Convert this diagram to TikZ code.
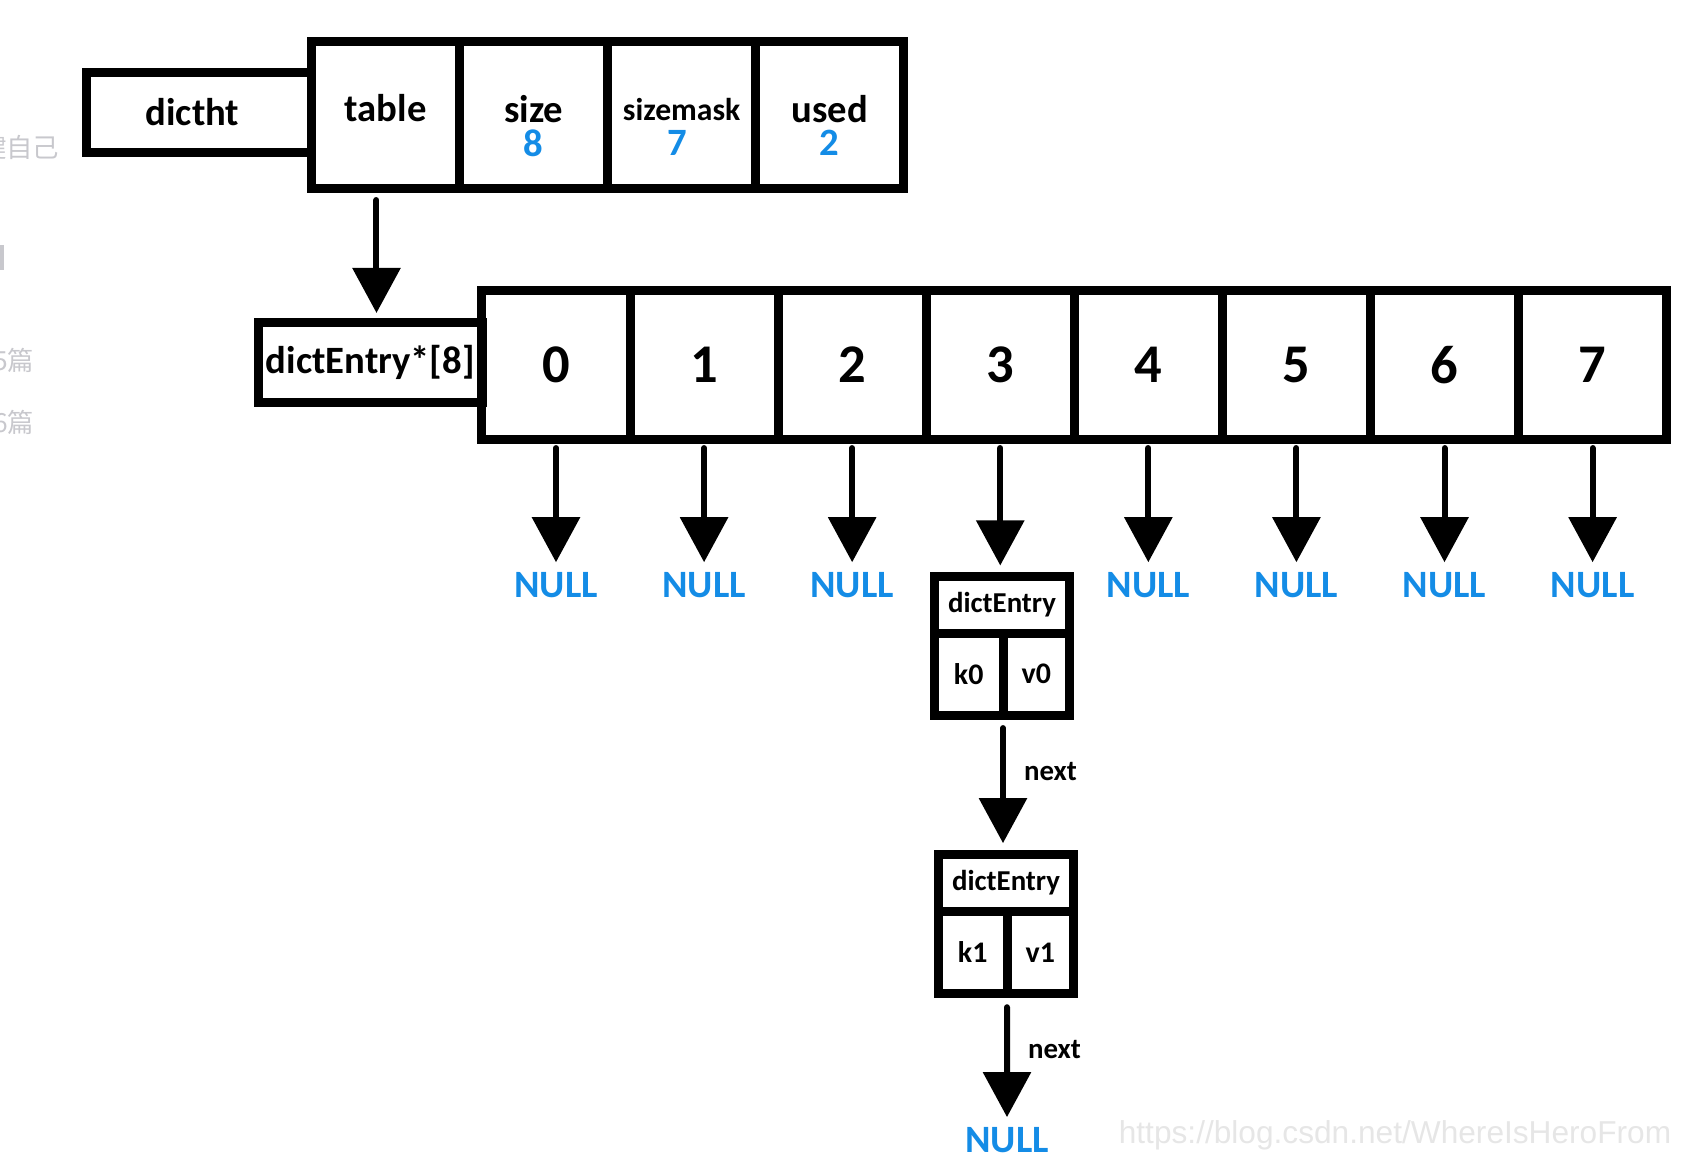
\documentclass[tikz,border=0pt]{standalone}
\usepackage{fontspec}
\setmainfont{Carlito}
\newfontfamily\cjkfont{Noto Sans CJK SC}
\newfontfamily\markfont{Liberation Sans}
\usepackage{tikz}
\usetikzlibrary{arrows.meta,shapes,positioning}
\definecolor{nullblue}{RGB}{20,140,230}
\definecolor{pagegray}{RGB}{200,200,205}
\definecolor{markgray}{RGB}{230,230,230}
\tikzstyle{outerbox}   = [rectangle, draw=black, line width=0.09cm, outer sep=0pt, inner sep=0pt, text centered]
\tikzstyle{headbox}    = [outerbox, minimum width=2.25cm, minimum height=0.8cm, font=\bfseries\fontsize{11}{13}\selectfont]
\tikzstyle{field}      = [outerbox, minimum width=1.48cm, minimum height=1.47cm]
\tikzstyle{slot}       = [outerbox, minimum width=1.48cm, minimum height=1.49cm, font=\bfseries\fontsize{15.5}{18}\selectfont]
\tikzstyle{entrybox}   = [outerbox, minimum width=1.35cm, minimum height=0.565cm, font=\bfseries\fontsize{8.2}{10}\selectfont]
\tikzstyle{kvbox}      = [outerbox, minimum height=0.825cm, font=\bfseries\fontsize{8.5}{10}\selectfont]
\tikzstyle{fieldname}  = [inner sep=0pt, font=\bfseries\fontsize{11}{13}\selectfont]
\tikzstyle{fieldvalue} = [inner sep=0pt, text=nullblue, font=\bfseries\fontsize{11}{13}\selectfont]
\tikzstyle{nullnode}   = [inner sep=0pt, text=nullblue, font=\bfseries\fontsize{11}{13}\selectfont]
\tikzstyle{nextlabel}  = [inner sep=0pt, font=\bfseries\fontsize{8.2}{10}\selectfont]
\tikzstyle{sidetext}   = [inner sep=0pt, text=pagegray, font=\cjkfont\fontsize{7.5}{9}\selectfont]
\tikzstyle{arrow}      = [line width=0.06cm, line cap=round, -{Triangle[width=0.47cm,length=0.45cm]}, shorten <=0.1cm]

\begin{document}
\begin{tikzpicture}[x=0.01cm, y=-0.01cm, node distance=1.48cm]
            \useasboundingbox (0,0) rectangle (1684,1170);
            %Page leftovers at the left edge
            \node (side_1) [sidetext, anchor=east] at (60,148) {键自己};
            \node (side_2) [sidetext, anchor=east] at (35,360) {5篇};
            \node (side_3) [sidetext, anchor=east] at (35,422) {6篇};
            \fill [pagegray] (0,245) rectangle (4,270);
            %Create nodes for dictht
            \node (dictht)    [headbox] at (199,112.5) {dictht\hspace*{0.13cm}};
            \node (table)     [field] at (385.5,115) {};
            \node (size)      [field, right of = table]    {};
            \node (sizemask)  [field, right of = size]     {};
            \node (used)      [field, right of = sizemask] {};
            \node (table_n)    [fieldname]  at ([yshift=0.07cm]table.center)  {table};
            \node (size_n)     [fieldname]  at ([yshift=0.055cm]size.center)  {size};
            \node (size_v)     [fieldvalue] at ([yshift=-0.28cm]size.center)  {8};
            \node (sizemask_n) [fieldname, font=\bfseries\fontsize{9}{11}\selectfont] at ([yshift=0.055cm]sizemask.center) {sizemask};
            \node (sizemask_v) [fieldvalue] at ([yshift=-0.28cm, xshift=-0.04cm]sizemask.center) {7};
            \node (used_n)     [fieldname]  at ([yshift=0.055cm]used.center)  {used};
            \node (used_v)     [fieldvalue] at ([yshift=-0.28cm]used.center)  {2};
            %Create nodes for the table
            \node (entries) [headbox, minimum width=2.235cm] at (370.25,362.5) {dictEntry*[8]};
            \node (slot_0)  [slot] at (556,365) {0};
            \node (slot_1)  [slot, right of = slot_0] {1};
            \node (slot_2)  [slot, right of = slot_1] {2};
            \node (slot_3)  [slot, right of = slot_2] {3};
            \node (slot_4)  [slot, right of = slot_3] {4};
            \node (slot_5)  [slot, right of = slot_4] {5};
            \node (slot_6)  [slot, right of = slot_5] {6};
            \node (slot_7)  [slot, right of = slot_6] {7};
            \node (null_0)  [nullnode, below of = slot_0, node distance=2.2cm] {NULL};
            \node (null_1)  [nullnode, below of = slot_1, node distance=2.2cm] {NULL};
            \node (null_2)  [nullnode, below of = slot_2, node distance=2.2cm] {NULL};
            \node (null_4)  [nullnode, below of = slot_4, node distance=2.2cm] {NULL};
            \node (null_5)  [nullnode, below of = slot_5, node distance=2.2cm] {NULL};
            \node (null_6)  [nullnode, below of = slot_6, node distance=2.2cm] {NULL};
            \node (null_7)  [nullnode, below of = slot_7, node distance=2.2cm] {NULL};
            %Create nodes for the chain
            \node (entry_1) [entrybox] at (1002,604.75) {dictEntry};
            \node (key_0)   [kvbox, minimum width=0.685cm, anchor=north west] at (entry_1.south west) {k0};
            \node (val_0)   [kvbox, minimum width=0.665cm, anchor=north east] at (entry_1.south east) {v0};
            \node (entry_2) [entrybox, below of = entry_1, node distance=2.78cm, xshift=0.04cm] {dictEntry};
            \node (key_1)   [kvbox, minimum width=0.685cm, anchor=north west] at (entry_2.south west) {k1};
            \node (val_1)   [kvbox, minimum width=0.665cm, anchor=north east] at (entry_2.south east) {v1};
            \node (null_8)  [nullnode] at (1007,1140) {NULL};
            \node (watermark) [inner sep=0pt, text=markgray, font=\markfont\fontsize{9}{11}\selectfont] at (1395,1135) {https://blog.csdn.net/WhereIsHeroFrom};
            %Connect dictht to the table
            \draw [arrow, shorten <=0.115cm, shorten >=0.095cm] ([xshift=-0.09cm]table.south) -- ([xshift=-0.09cm]table.south |- entries.north);
            %Connect slots
            \draw [arrow, shorten <=0.085cm, shorten >=0.095cm] (slot_0.south) -- (null_0.north);
            \draw [arrow, shorten <=0.085cm, shorten >=0.095cm] (slot_1.south) -- (null_1.north);
            \draw [arrow, shorten <=0.085cm, shorten >=0.095cm] (slot_2.south) -- (null_2.north);
            \draw [arrow, shorten <=0.085cm, shorten >=0.11cm]  (slot_3.south) -- (slot_3.south |- entry_1.north);
            \draw [arrow, shorten <=0.085cm, shorten >=0.095cm] (slot_4.south) -- (null_4.north);
            \draw [arrow, shorten <=0.085cm, shorten >=0.095cm] (slot_5.south) -- (null_5.north);
            \draw [arrow, shorten <=0.085cm, shorten >=0.095cm] (slot_6.south) -- (null_6.north);
            \draw [arrow, shorten <=0.085cm, shorten >=0.095cm] (slot_7.south) -- (null_7.north);
            %Connect chain
            \draw [arrow, shorten <=0.125cm, shorten >=0.115cm] (key_0.south east) -- node[nextlabel, right=0.18cm, pos=0.40] (next_1) {next} (key_0.south east |- entry_2.north);
            \draw [arrow, shorten <=0.135cm, shorten >=0.095cm] (key_1.south east) -- node[nextlabel, right=0.18cm, pos=0.42] (next_2) {next} (null_8.north);
        \end{tikzpicture}
\end{document}
